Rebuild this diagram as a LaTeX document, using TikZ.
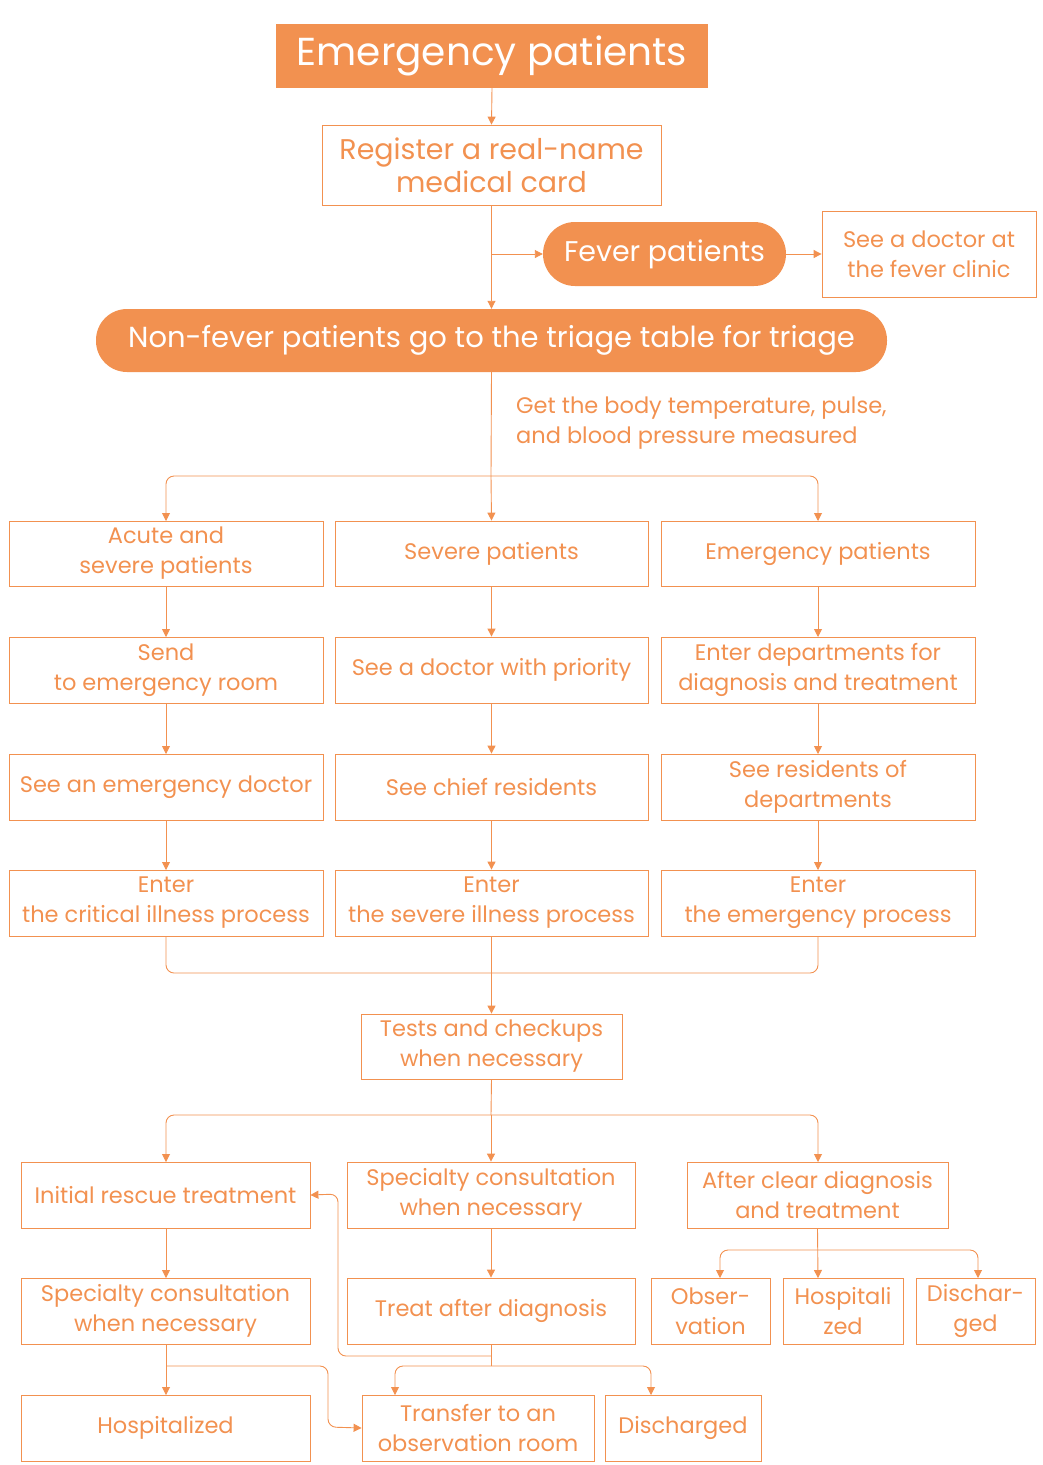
\documentclass[tikz,border=0pt]{standalone}
\usepackage{fontspec}
\setmainfont{Poppins}
\usetikzlibrary{arrows.meta}
\definecolor{org}{HTML}{F29150}
\begin{document}
\begin{tikzpicture}[x=1pt,y=-1pt,
  bx/.style={draw=org,line width=0.8pt,text=org,align=center,inner sep=0pt,font=\fontsize{22.5}{30}\selectfont},
  fl/.style={fill=org,text=white,align=center,inner sep=0pt},
  ar/.style={draw=org,line width=0.9pt,-{Triangle[width=8pt,length=8pt]},rounded corners=8pt},
  ln/.style={draw=org,line width=0.9pt,rounded corners=8pt}]
\useasboundingbox (0,0) rectangle (1043,1465);
\newcommand{\bt}[7]{\node[#6,minimum width=#4-#2,minimum height=#5-#3] (#1) at ({(#2+#4)/2},{(#3+#5)/2}) {#7};}
\bt{ep}{276}{24}{708}{88}{fl,font=\fontsize{39}{44}\selectfont}{Emergency patients}
\bt{reg}{322}{125}{661}{205}{bx,font=\fontsize{28.5}{33}\selectfont}{Register a real-name\\medical card}
\bt{fev}{543}{222}{786}{286}{fl,rounded corners=32pt,font=\fontsize{28.5}{33}\selectfont}{Fever patients}
\bt{clinic}{822}{211}{1036}{297}{bx}{See a doctor at\\the fever clinic}
\bt{nf}{96}{309}{887}{372}{fl,rounded corners=31pt,font=\fontsize{29}{33}\selectfont}{Non-fever patients go to the triage table for triage}
\node[text=org,align=left,anchor=north west,font=\fontsize{22.5}{30}\selectfont,inner sep=0pt] (meas) at (516,397) {Get the body temperature, pulse,\\and blood pressure measured};
\bt{a1}{9}{521}{323}{586}{bx}{Acute and\\severe patients}
\bt{b1}{335}{521}{648}{586}{bx}{Severe patients}
\bt{c1}{661}{521}{975}{586}{bx}{Emergency patients}
\bt{a2}{9}{637}{323}{703}{bx}{Send\\to emergency room}
\bt{b2}{335}{637}{648}{703}{bx}{See a doctor with priority}
\bt{c2}{661}{637}{975}{703}{bx}{Enter departments for\\diagnosis and treatment}
\bt{a3}{9}{754}{323}{820}{bx}{See an emergency doctor}
\bt{b3}{335}{754}{648}{820}{bx}{See chief residents}
\bt{c3}{661}{754}{975}{820}{bx}{See residents of\\departments}
\bt{a4}{9}{870}{323}{936}{bx}{Enter\\the critical illness process}
\bt{b4}{335}{870}{648}{936}{bx}{Enter\\the severe illness process}
\bt{c4}{661}{870}{975}{936}{bx}{Enter\\the emergency process}
\bt{tst}{361}{1014}{622}{1079}{bx}{Tests and checkups\\when necessary}
\bt{ini}{21}{1162}{310}{1228}{bx}{Initial rescue treatment}
\bt{spc}{347}{1162}{635}{1228}{bx}{Specialty consultation\\when necessary}
\bt{aft}{687}{1162}{948}{1228}{bx}{After clear diagnosis\\and treatment}
\bt{spc2}{21}{1278}{310}{1344}{bx}{Specialty consultation\\when necessary}
\bt{trt}{347}{1278}{635}{1344}{bx}{Treat after diagnosis}
\bt{obs}{651}{1278}{770}{1344}{bx}{Obser-\\vation}
\bt{hos}{783}{1278}{903}{1344}{bx}{Hospitali\\zed}
\bt{dis}{916}{1278}{1035}{1344}{bx}{Dischar-\\ged}
\bt{hosp}{21}{1395}{310}{1461}{bx}{Hospitalized}
\bt{trn}{362}{1395}{594}{1461}{bx}{Transfer to an\\observation room}
\bt{dsc}{605}{1395}{761}{1461}{bx}{Discharged}
% connectors
\draw[ar] (ep.south) -- (reg.north);
\coordinate (j1) at (491,254);
\draw[ar] (reg.south) -- (nf.north);
\draw[ar] (j1) -- (fev.west);
\draw[ar] (fev.east) -- (clinic.west);
\coordinate (j2) at (491,476);
\draw[ln] (nf.south) -- (j2);
\draw[ar] (j2) -- (166,476) -- (166,521);
\draw[ar] (j2) -- (818,476) -- (818,521);
\draw[ar] (j2) -- (b1.north);
\foreach \r/\s in {1/2,2/3,3/4}{
  \draw[ar] (166,\ifcase\r\or586\or703\or820\fi) -- (166,\ifcase\r\or637\or754\or870\fi);
  \draw[ar] (b\r.south) -- (b\s.north);
  \draw[ar] (818,\ifcase\r\or586\or703\or820\fi) -- (818,\ifcase\r\or637\or754\or870\fi);
}
\draw[ln] (166,936) -- (166,973) -- (818,973) -- (818,936);
\draw[ar] (b4.south) -- (tst.north);
\coordinate (j4) at (491,1115);
\draw[ln] (tst.south) -- (j4);
\draw[ar] (j4) -- (166,1115) -- (166,1162);
\draw[ar] (j4) -- (818,1115) -- (818,1162);
\draw[ar] (j4) -- (spc.north);
\draw[ar] (166,1228) -- (166,1278);
\draw[ar] (spc.south) -- (trt.north);
\coordinate (j5) at (818,1250);
\draw[ar] (aft.south) -- (818,1278);
\draw[ar] (j5) -- (720,1250) -- (720,1278);
\draw[ar] (j5) -- (978,1250) -- (978,1278);
\draw[ar] (166,1344) -- (166,1395);
\draw[ar] (166,1366) -- (328,1366) -- (328,1427) -- (trn.west);
\coordinate (j6) at (491,1356);
\draw[ln] (trt.south) -- (j6);
\draw[ar] (j6) -- (338,1356) -- (338,1194) -- (ini.east);
\draw[ln] (j6) -- (491,1366);
\draw[ar] (491,1366) -- (395,1366) -- (395,1395);
\draw[ar] (491,1366) -- (651,1366) -- (651,1395);
\end{tikzpicture}
\end{document}
